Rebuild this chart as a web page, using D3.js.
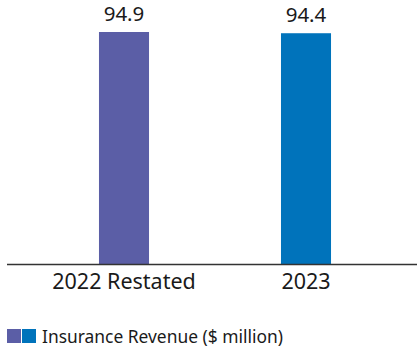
<!DOCTYPE html>
<html>
<head>
<meta charset="utf-8">
<script src="https://cdn.jsdelivr.net/npm/d3@7"></script>
<style>
  body { margin: 0; background: #fff; }
  svg { display: block; font-family: "Noto Sans", sans-serif; }
</style>
</head>
<body>
<svg id="chart" width="417" height="350"></svg>
<script>
'use strict';

const categories = ['2022 Restated', '2023'];
const revenue = [94.9, 94.4];
const barColors = ['#5b5ea6', '#0073bb'];
const legendLabel = 'Insurance Revenue ($ million)';

const svg = d3.select('#chart');
const baseY = 264.5;

const x = d3.scaleBand()
  .domain(categories)
  .range([33, 397])
  .paddingInner(0.725)
  .paddingOuter(0.3625);

const y = d3.scaleLinear()
  .domain([0, 94.9])
  .range([baseY, 32]);

// bars
svg.selectAll('rect.bar')
  .data(categories)
  .enter()
  .append('rect')
  .attr('class', 'bar')
  .attr('x', d => x(d))
  .attr('y', (d, i) => y(revenue[i]))
  .attr('width', x.bandwidth())
  .attr('height', (d, i) => baseY - y(revenue[i]))
  .attr('fill', (d, i) => barColors[i]);

// value labels
svg.selectAll('text.val')
  .data(categories)
  .enter()
  .append('text')
  .attr('class', 'val')
  .attr('x', d => x(d) + x.bandwidth() / 2)
  .attr('y', (d, i) => y(revenue[i]) - 11.5)
  .attr('text-anchor', 'middle')
  .attr('font-size', 20.5)
  .attr('fill', '#1a1a1a')
  .text((d, i) => revenue[i].toFixed(1));

// x axis
const xAxis = svg.append('g')
  .attr('transform', `translate(0,${baseY})`)
  .call(d3.axisBottom(x).tickSize(0).tickPadding(9));
xAxis.select('.domain')
  .attr('d', `M7,0H417`)
  .attr('stroke', '#333')
  .attr('stroke-width', 1.3);
xAxis.selectAll('text')
  .attr('font-size', 21.5)
  .attr('font-family', '"Noto Sans", sans-serif')
  .attr('fill', '#1a1a1a');

// legend
const legend = svg.append('g').attr('transform', 'translate(7,329)');
legend.selectAll('rect')
  .data(barColors)
  .enter()
  .append('rect')
  .attr('x', (d, i) => i * 15)
  .attr('y', 0)
  .attr('width', 14)
  .attr('height', 14)
  .attr('fill', d => d);
legend.append('text')
  .attr('x', 35)
  .attr('y', 13.8)
  .attr('font-size', 17.4)
  .attr('fill', '#1a1a1a')
  .text(legendLabel);
</script>
</body>
</html>
